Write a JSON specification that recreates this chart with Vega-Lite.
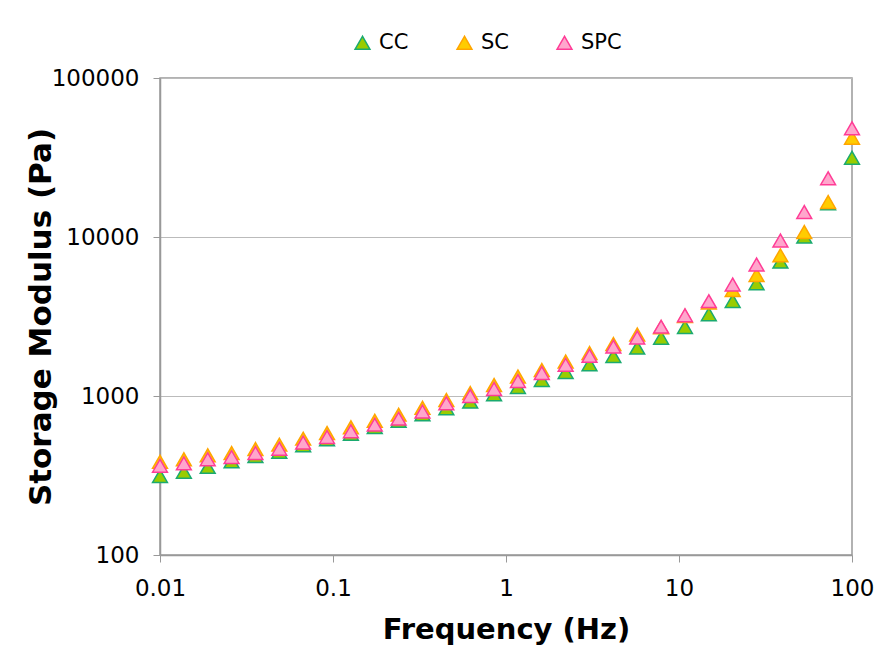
{
  "$schema": "https://vega.github.io/schema/vega-lite/v6.json",
  "width": 692,
  "height": 477,
  "autosize": {"type": "none"},
  "padding": {"left": 160, "top": 78, "right": 32, "bottom": 97},
  "background": "white",
  "config": {
    "font": "DejaVu Sans",
    "view": {"stroke": "#999999", "strokeWidth": 1.5}
  },
  "data": {
    "values": [
      {"f": 0.01, "g": 314, "s": "CC"},
      {"f": 0.013738, "g": 334, "s": "CC"},
      {"f": 0.018874, "g": 358, "s": "CC"},
      {"f": 0.025929, "g": 388, "s": "CC"},
      {"f": 0.035622, "g": 419, "s": "CC"},
      {"f": 0.048939, "g": 446, "s": "CC"},
      {"f": 0.067234, "g": 490, "s": "CC"},
      {"f": 0.092367, "g": 534, "s": "CC"},
      {"f": 0.1269, "g": 579, "s": "CC"},
      {"f": 0.17433, "g": 638, "s": "CC"},
      {"f": 0.2395, "g": 699, "s": "CC"},
      {"f": 0.32903, "g": 767, "s": "CC"},
      {"f": 0.45203, "g": 837, "s": "CC"},
      {"f": 0.62102, "g": 921, "s": "CC"},
      {"f": 0.85317, "g": 1025, "s": "CC"},
      {"f": 1.1721, "g": 1139, "s": "CC"},
      {"f": 1.6103, "g": 1260, "s": "CC"},
      {"f": 2.2122, "g": 1415, "s": "CC"},
      {"f": 3.0392, "g": 1583, "s": "CC"},
      {"f": 4.1753, "g": 1784, "s": "CC"},
      {"f": 5.7362, "g": 2013, "s": "CC"},
      {"f": 7.8805, "g": 2326, "s": "CC"},
      {"f": 10.827, "g": 2717, "s": "CC"},
      {"f": 14.874, "g": 3265, "s": "CC"},
      {"f": 20.434, "g": 3958, "s": "CC"},
      {"f": 28.072, "g": 5114, "s": "CC"},
      {"f": 38.566, "g": 6993, "s": "CC"},
      {"f": 52.983, "g": 10044, "s": "CC"},
      {"f": 72.79, "g": 16290, "s": "CC"},
      {"f": 100, "g": 31530, "s": "CC"},
      {"f": 0.01, "g": 386, "s": "SC"},
      {"f": 0.013738, "g": 400, "s": "SC"},
      {"f": 0.018874, "g": 424, "s": "SC"},
      {"f": 0.025929, "g": 438, "s": "SC"},
      {"f": 0.035622, "g": 464, "s": "SC"},
      {"f": 0.048939, "g": 494, "s": "SC"},
      {"f": 0.067234, "g": 539, "s": "SC"},
      {"f": 0.092367, "g": 585, "s": "SC"},
      {"f": 0.1269, "g": 636, "s": "SC"},
      {"f": 0.17433, "g": 699, "s": "SC"},
      {"f": 0.2395, "g": 763, "s": "SC"},
      {"f": 0.32903, "g": 844, "s": "SC"},
      {"f": 0.45203, "g": 944, "s": "SC"},
      {"f": 0.62102, "g": 1044, "s": "SC"},
      {"f": 0.85317, "g": 1173, "s": "SC"},
      {"f": 1.1721, "g": 1326, "s": "SC"},
      {"f": 1.6103, "g": 1457, "s": "SC"},
      {"f": 2.2122, "g": 1648, "s": "SC"},
      {"f": 3.0392, "g": 1864, "s": "SC"},
      {"f": 4.1753, "g": 2124, "s": "SC"},
      {"f": 5.7362, "g": 2437, "s": "SC"},
      {"f": 7.8805, "g": 2700, "s": "SC"},
      {"f": 10.827, "g": 3185, "s": "SC"},
      {"f": 14.874, "g": 3862, "s": "SC"},
      {"f": 20.434, "g": 4642, "s": "SC"},
      {"f": 28.072, "g": 5768, "s": "SC"},
      {"f": 38.566, "g": 7672, "s": "SC"},
      {"f": 52.983, "g": 10750, "s": "SC"},
      {"f": 72.79, "g": 16600, "s": "SC"},
      {"f": 100, "g": 42120, "s": "SC"},
      {"f": 0.01, "g": 364, "s": "SPC"},
      {"f": 0.013738, "g": 377, "s": "SPC"},
      {"f": 0.018874, "g": 400, "s": "SPC"},
      {"f": 0.025929, "g": 413, "s": "SPC"},
      {"f": 0.035622, "g": 438, "s": "SPC"},
      {"f": 0.048939, "g": 466, "s": "SPC"},
      {"f": 0.067234, "g": 509, "s": "SPC"},
      {"f": 0.092367, "g": 552, "s": "SPC"},
      {"f": 0.1269, "g": 600, "s": "SPC"},
      {"f": 0.17433, "g": 660, "s": "SPC"},
      {"f": 0.2395, "g": 720, "s": "SPC"},
      {"f": 0.32903, "g": 797, "s": "SPC"},
      {"f": 0.45203, "g": 900, "s": "SPC"},
      {"f": 0.62102, "g": 1000, "s": "SPC"},
      {"f": 0.85317, "g": 1107, "s": "SPC"},
      {"f": 1.1721, "g": 1243, "s": "SPC"},
      {"f": 1.6103, "g": 1395, "s": "SPC"},
      {"f": 2.2122, "g": 1571, "s": "SPC"},
      {"f": 3.0392, "g": 1789, "s": "SPC"},
      {"f": 4.1753, "g": 2042, "s": "SPC"},
      {"f": 5.7362, "g": 2333, "s": "SPC"},
      {"f": 7.8805, "g": 2728, "s": "SPC"},
      {"f": 10.827, "g": 3218, "s": "SPC"},
      {"f": 14.874, "g": 3947, "s": "SPC"},
      {"f": 20.434, "g": 5027, "s": "SPC"},
      {"f": 28.072, "g": 6714, "s": "SPC"},
      {"f": 38.566, "g": 9506, "s": "SPC"},
      {"f": 52.983, "g": 14364, "s": "SPC"},
      {"f": 72.79, "g": 23400, "s": "SPC"},
      {"f": 100, "g": 48270, "s": "SPC"}
    ]
  },
  "mark": {"type": "point", "shape": "triangle-up", "filled": true, "size": 220, "strokeWidth": 1.5, "opacity": 1, "fillOpacity": 1, "strokeOpacity": 1},
  "encoding": {
    "x": {
      "field": "f", "type": "quantitative",
      "scale": {"type": "log", "domain": [0.01, 100], "nice": false},
      "axis": {"values": [0.01, 0.1, 1, 10, 100], "format": "~g", "grid": false, "title": "Frequency (Hz)", "titleFontSize": 29, "titleFontWeight": "bold", "titleColor": "#000000", "titleFont": "DejaVu Sans", "titlePadding": 15,
        "labelFontSize": 23, "labelFont": "DejaVu Sans", "labelColor": "#000000", "labelFlush": false, "labelPadding": 15, "labelBound": false,
        "domainColor": "#999999", "domainWidth": 1.5, "ticks": true, "tickColor": "#999999", "tickSize": 7, "tickWidth": 1}
    },
    "y": {
      "field": "g", "type": "quantitative",
      "scale": {"type": "log", "domain": [100, 100000], "nice": false},
      "axis": {"values": [100, 1000, 10000, 100000], "format": "d", "grid": true, "gridColor": "#bbbbbb", "gridWidth": 1, "title": "Storage Modulus (Pa)", "titleFontSize": 31, "titleFontWeight": "bold", "titleColor": "#000000", "titleFont": "DejaVu Sans", "titlePadding": -6,
        "labelFontSize": 23, "labelFont": "DejaVu Sans", "labelColor": "#000000", "labelFlush": false, "labelPadding": 14, "labelBound": false,
        "domainColor": "#999999", "domainWidth": 1.5, "ticks": true, "tickColor": "#999999", "tickSize": 7, "tickWidth": 1}
    },
    "fill": {
      "field": "s", "type": "nominal",
      "scale": {"domain": ["CC", "SC", "SPC"], "range": ["#99cc00", "#ffcc00", "#ffa6cc"]},
      "legend": {"title": null, "orient": "none", "direction": "horizontal", "legendX": 192, "legendY": -46, "labelFontSize": 21, "labelFont": "DejaVu Sans", "labelColor": "#000000", "symbolSize": 220, "symbolStrokeWidth": 1.5, "columnPadding": 45, "labelOffset": 6}
    },
    "stroke": {
      "field": "s", "type": "nominal",
      "scale": {"domain": ["CC", "SC", "SPC"], "range": ["#1aaa70", "#ffa500", "#ff3c96"]},
      "legend": {"title": null, "orient": "none", "direction": "horizontal", "legendX": 192, "legendY": -46, "labelFontSize": 21, "labelFont": "DejaVu Sans", "labelColor": "#000000", "symbolSize": 220, "symbolStrokeWidth": 1.5, "columnPadding": 45, "labelOffset": 6}
    },
    "shape": {"value": "triangle-up"}
  }
}
